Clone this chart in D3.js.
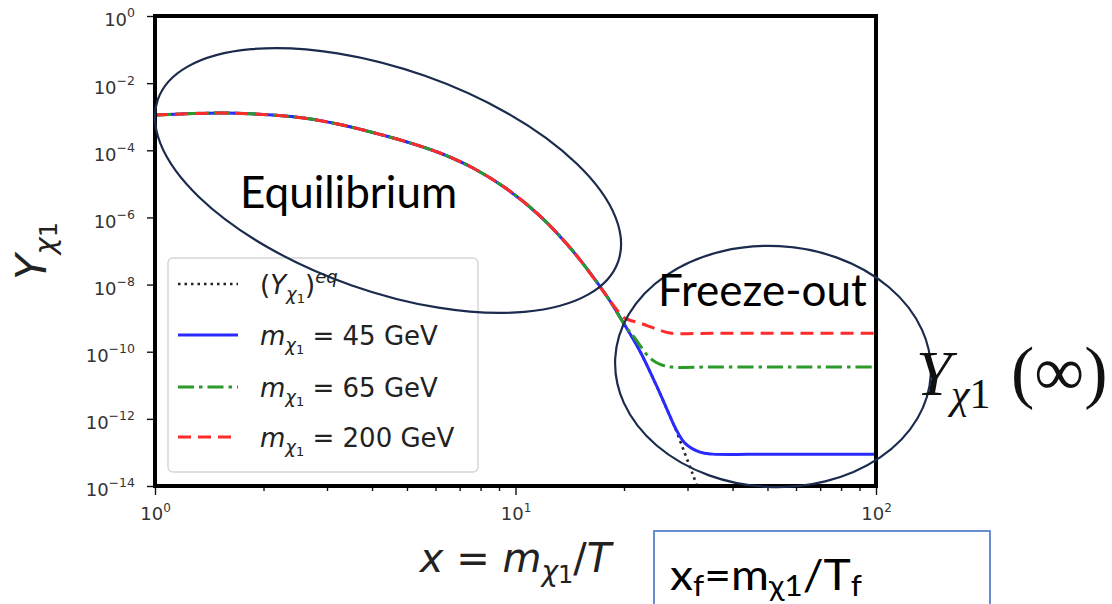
<!DOCTYPE html>
<html>
<head>
<meta charset="utf-8">
<script src="https://cdn.jsdelivr.net/npm/d3@7"></script>
<style>
  body { margin: 0; background: #fff; }
  svg { display: block; }
</style>
</head>
<body>
<svg id="chart" width="1112" height="604"></svg>
<script>
// Comoving abundance Y of the lightest neutralino versus x = m/T.
// All curves share the equilibrium track at small x.
const earlyX = [1.0, 1.54, 2.12, 2.64, 3.26, 4.02, 5.0, 6.17, 7.62, 9.47, 11.7, 14.4, 17.9];
const earlyY = [1.12e-3, 1.29e-3, 1.12e-3, 8.85e-4, 5.86e-4, 3.39e-4, 1.77e-4, 8.3e-5, 2.97e-5, 7.0e-6, 1.10e-6, 1.02e-7, 4.56e-9];

// Equilibrium abundance beyond the shared section
const eqTailX = [20.1, 22.2, 24.7, 26.8, 27.7, 29.5, 31.1, 32.3];
const eqTailY = [6.2e-10, 9.8e-11, 8.9e-12, 1.22e-12, 5.4e-13, 9.3e-14, 2.1e-14, 6.6e-15];

// m = 45 GeV
const m45TailX = [20.1, 22.2, 24.7, 26.8, 27.7, 29.5, 32.5, 35.2, 50, 70, 100];
const m45TailY = [6.2e-10, 9.8e-11, 8.9e-12, 1.22e-12, 5.6e-13, 1.9e-13, 1.02e-13, 8.9e-14, 8.9e-14, 8.9e-14, 8.9e-14];

// m = 65 GeV
const m65TailX = [20.1, 21.4, 23.6, 25.2, 27.2, 35, 50, 70, 100];
const m65TailY = [6.2e-10, 2.6e-10, 6.5e-11, 4.2e-11, 3.5e-11, 3.5e-11, 3.5e-11, 3.5e-11, 3.5e-11];

// m = 200 GeV
const m200TailX = [19.0, 20.1, 22.2, 24.7, 26.8, 35, 50, 70, 100];
const m200TailY = [1.9e-9, 1.0e-9, 7.1e-10, 4.7e-10, 3.6e-10, 3.55e-10, 3.55e-10, 3.55e-10, 3.55e-10];

const xMajor = [1, 10, 100];
const xMajorExp = ["0", "1", "2"];
const yMajor = [1, 1e-2, 1e-4, 1e-6, 1e-8, 1e-10, 1e-12, 1e-14];
const yMajorExp = ["0", "\u22122", "\u22124", "\u22126", "\u22128", "\u221210", "\u221212", "\u221214"];
const massLabels = ["45", "65", "200"];

const svg = d3.select("#chart");
const L = 155, R = 876, T = 16, B = 486;

const x = d3.scaleLog().domain([1, 100]).range([L, R]);
const y = d3.scaleLog().domain([1e-14, 1]).range([B, T]);

const mathFont = "DejaVu Sans, sans-serif";
const slideFont = "Lato, 'Open Sans', sans-serif";

function series(xa, ya, xb, yb) {
  const pts = xa.map((v, i) => [v, ya[i]]);
  xb.forEach((v, i) => pts.push([v, yb[i]]));
  return pts;
}

const eqPts = series(earlyX, earlyY, eqTailX, eqTailY);
const m45Pts = series(earlyX, earlyY, m45TailX, m45TailY);
const m65Pts = series(earlyX, earlyY, m65TailX, m65TailY);
const m200Pts = series(earlyX, earlyY, m200TailX, m200TailY);

svg.append("defs").append("clipPath").attr("id", "plotClip")
  .append("rect").attr("x", L).attr("y", T).attr("width", R - L).attr("height", B - T);

const line = d3.line().x(d => x(d[0])).y(d => y(d[1])).curve(d3.curveCatmullRom.alpha(0.5));

const styles = [
  { pts: eqPts, color: "#222", width: 2.6, dash: "2.5,4" },
  { pts: m45Pts, color: "#2a2aff", width: 3, dash: null },
  { pts: m65Pts, color: "#2b9a2b", width: 3, dash: "16,5,3.5,5" },
  { pts: m200Pts, color: "#ff2a2a", width: 3, dash: "13,7" }
];

const curves = svg.append("g").attr("clip-path", "url(#plotClip)");
styles.forEach(s => {
  curves.append("path")
    .attr("d", line(s.pts))
    .attr("fill", "none")
    .attr("stroke", s.color)
    .attr("stroke-width", s.width)
    .attr("stroke-dasharray", s.dash)
    .attr("stroke-linecap", "butt");
});

// axes
const xMinor = [];
[1, 10].forEach(d => { for (let k = 2; k <= 9; k++) xMinor.push(d * k); });

const gxMinor = svg.append("g").attr("transform", `translate(0,${B})`)
  .call(d3.axisBottom(x).tickValues(xMinor).tickSize(5).tickFormat(""));
const gx = svg.append("g").attr("transform", `translate(0,${B})`)
  .call(d3.axisBottom(x).tickValues(xMajor).tickSize(9).tickPadding(17).tickFormat(""));
const gy = svg.append("g").attr("transform", `translate(${L},0)`)
  .call(d3.axisLeft(y).tickValues(yMajor).tickSize(8).tickPadding(12).tickFormat(""));

[gxMinor, gx, gy].forEach(g => {
  g.select(".domain").remove();
  g.selectAll(".tick line").attr("stroke", "#111").attr("stroke-width", 1.4);
});

gx.selectAll(".tick text")
  .attr("font-family", mathFont).attr("font-size", 18).attr("fill", "#333")
  .attr("dy", "0.45em")
  .each(function (d, i) {
    const t = d3.select(this);
    t.append("tspan").text("10");
    t.append("tspan").attr("font-size", 12).attr("dy", -8).text(xMajorExp[i]);
  });

gy.selectAll(".tick text")
  .attr("font-family", mathFont).attr("font-size", 18).attr("fill", "#333")
  .attr("dy", "0.55em")
  .each(function (d, i) {
    const t = d3.select(this);
    t.append("tspan").text("10");
    t.append("tspan").attr("font-size", 12.5).attr("dy", -9).text(yMajorExp[i]);
  });

// frame
svg.append("rect").attr("x", L).attr("y", T).attr("width", R - L).attr("height", B - T)
  .attr("fill", "none").attr("stroke", "#000").attr("stroke-width", 4);

// axis titles
const xt = svg.append("text").attr("x", (L + R) / 2).attr("y", 572)
  .attr("text-anchor", "middle").attr("font-family", mathFont).attr("font-size", 40).attr("fill", "#222");
xt.append("tspan").attr("font-style", "italic").text("x");
xt.append("tspan").text(" = ");
xt.append("tspan").attr("font-style", "italic").text("m");
xt.append("tspan").attr("font-style", "italic").attr("font-size", 28).attr("dy", 9).text("\u03c7");
xt.append("tspan").attr("font-size", 24).attr("dy", 2).text("1");
xt.append("tspan").attr("dy", -11).text("/");
xt.append("tspan").attr("font-style", "italic").text("T");

const yt = svg.append("text").attr("transform", `translate(46,${(T + B) / 2}) rotate(-90)`)
  .attr("text-anchor", "middle").attr("font-family", mathFont).attr("font-size", 42).attr("fill", "#222");
yt.append("tspan").attr("font-style", "italic").text("Y");
yt.append("tspan").attr("font-style", "italic").attr("font-size", 29).attr("dy", 9).text("\u03c7");
yt.append("tspan").attr("font-size", 24).attr("dy", 2).text("1");

// legend
const lg = svg.append("g");
lg.append("rect").attr("x", 168).attr("y", 258).attr("width", 310).attr("height", 214)
  .attr("rx", 5).attr("fill", "#fff").attr("fill-opacity", 0.8)
  .attr("stroke", "#d6d6d6").attr("stroke-width", 1.5);
const rowY = [284, 335, 387, 437];
styles.forEach((s, i) => {
  lg.append("line").attr("x1", 178).attr("x2", 238).attr("y1", rowY[i]).attr("y2", rowY[i])
    .attr("stroke", s.color).attr("stroke-width", s.width).attr("stroke-dasharray", s.dash);
  const t = lg.append("text").attr("x", 260).attr("y", rowY[i] + 10)
    .attr("font-family", mathFont).attr("font-size", 26).attr("fill", "#222");
  if (i === 0) {
    t.append("tspan").text("(");
    t.append("tspan").attr("font-style", "italic").text("Y");
    t.append("tspan").attr("font-style", "italic").attr("font-size", 18).attr("dy", 6).text("\u03c7");
    t.append("tspan").attr("font-size", 13).attr("dy", 3).text("1");
    t.append("tspan").attr("dy", -9).text(")");
    t.append("tspan").attr("font-style", "italic").attr("font-size", 18).attr("dy", -11).text("eq");
  } else {
    t.append("tspan").attr("font-style", "italic").text("m");
    t.append("tspan").attr("font-style", "italic").attr("font-size", 18).attr("dy", 6).text("\u03c7");
    t.append("tspan").attr("font-size", 13).attr("dy", 3).text("1");
    t.append("tspan").attr("dy", -9).text(" = " + massLabels[i - 1] + " GeV");
  }
});

// annotations
const navy = "#1b2b4d";
svg.append("ellipse").attr("cx", 0).attr("cy", 0).attr("rx", 244).attr("ry", 111)
  .attr("transform", "translate(388,180.5) rotate(19.4)")
  .attr("fill", "none").attr("stroke", navy).attr("stroke-width", 2.2);
svg.append("ellipse").attr("cx", 0).attr("cy", 0).attr("rx", 158).attr("ry", 120.5)
  .attr("transform", "translate(773,366.5) rotate(3)")
  .attr("fill", "none").attr("stroke", navy).attr("stroke-width", 2.2);

svg.append("text").attr("x", 240).attr("y", 208).attr("font-family", slideFont)
  .attr("font-size", 44).attr("fill", "#000").text("Equilibrium");
svg.append("text").attr("x", 658).attr("y", 306).attr("font-family", slideFont)
  .attr("font-size", 44).attr("fill", "#000").text("Freeze-out");

// Y(∞) label
const serif = "'Liberation Serif', 'DejaVu Serif', serif";
svg.append("text").attr("x", 916).attr("y", 395).attr("font-family", serif)
  .attr("font-style", "italic").attr("font-size", 64).attr("fill", "#111").text("Y");
const ysub = svg.append("text").attr("x", 951).attr("y", 408).attr("font-family", serif)
  .attr("font-size", 42).attr("fill", "#111");
ysub.append("tspan").attr("font-style", "italic").text("\u03c7");
ysub.append("tspan").text("1");
svg.append("text").attr("x", 1011).attr("y", 395).attr("font-family", serif)
  .attr("font-size", 70).attr("fill", "#111").text("(\u221e)");

// x_f box
svg.append("rect").attr("x", 654).attr("y", 531).attr("width", 336).attr("height", 90)
  .attr("fill", "#fff").attr("stroke", "#4472c4").attr("stroke-width", 1.6);
const xf = svg.append("text").attr("font-family", slideFont)
  .attr("font-size", 42).attr("fill", "#000");
xf.append("tspan").text("x");
xf.append("tspan").attr("font-size", 29).attr("dy", 6).text("f");
xf.append("tspan").attr("dy", -6).text("=m");
xf.append("tspan").attr("font-size", 29).attr("dy", 6).text("\u03c7");
xf.append("tspan").attr("font-size", 29).text("1");
xf.append("tspan").attr("dy", -6).text("/T");
xf.append("tspan").attr("font-size", 29).attr("dy", 6).text("f");
// widen the box text to span the same width as the slide text
const xfw = xf.node().getBBox().width;
xf.attr("transform", `translate(670,590) scale(${192 / xfw},1)`);
</script>
</body>
</html>
